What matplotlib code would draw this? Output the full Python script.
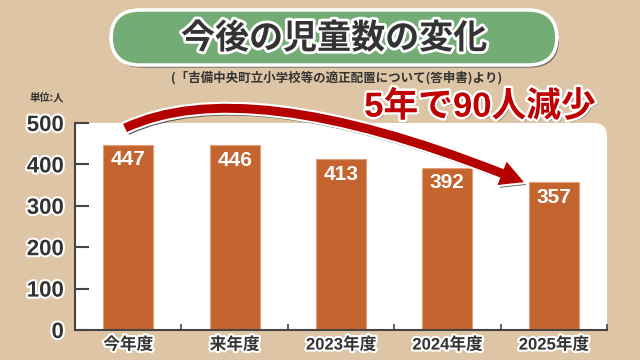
import matplotlib
matplotlib.use("Agg")
import matplotlib.pyplot as plt
import matplotlib.patheffects as pe
from matplotlib.patches import FancyBboxPatch, Rectangle, FancyArrowPatch
from matplotlib.path import Path

plt.rcParams['font.family'] = ['Noto Sans CJK JP', 'DejaVu Sans']
MIX = ['Liberation Sans', 'Noto Sans CJK JP']

categories = ["今年度", "来年度", "2023年度", "2024年度", "2025年度"]
values = [447, 446, 413, 392, 357]
yticks = [0, 100, 200, 300, 400, 500]
title = "今後の児童数の変化"
subtitle = "(「吉備中央町立小学校等の適正配置について(答申書)より)"
unit = "単位:人"
callout = "5年で90人減少"

BG = "#DEC5A5"
BAR = "#C4652F"
DARK = "#333333"
RED = "#C00000"

fig = plt.figure(figsize=(6.4, 3.6), dpi=100, facecolor=BG)
ax = fig.add_axes([75/640, 1-330/360, 532/640, 207/360])
ax.set_facecolor("none")
ax.set_xlim(-0.5, len(categories) - 0.5)
ax.set_ylim(0, 500)

# white plot area with rounded top-right corner
ax.add_patch(FancyBboxPatch((0, 0), 1, 1, boxstyle="round,pad=0,rounding_size=0.025",
                            transform=ax.transAxes, facecolor="white", edgecolor="none",
                            zorder=0, mutation_aspect=532/207))
ax.add_patch(Rectangle((0, 0), 1, 0.5, transform=ax.transAxes, facecolor="white",
                       edgecolor="none", zorder=0))
ax.add_patch(Rectangle((0, 0), 0.5, 1, transform=ax.transAxes, facecolor="white",
                       edgecolor="none", zorder=0))

xs = list(range(len(categories)))
bars = ax.bar(xs, values, width=0.47, color=BAR, edgecolor="#E0A07A", linewidth=0.8, zorder=2)
for x, v in zip(xs, values):
    ax.annotate(str(v), (x, v), xytext=(0, -4), textcoords="offset points",
                ha="center", va="top", color="white", fontsize=15, fontweight="bold",
                family=MIX, zorder=3)

for s in ["top", "right"]:
    ax.spines[s].set_visible(False)
for s in ["left", "bottom"]:
    ax.spines[s].set_color("#444444")
    ax.spines[s].set_linewidth(1.5)
    ax.spines[s].set_zorder(4)

ax.set_yticks(yticks)
ax.set_yticklabels([str(t) for t in yticks])
ax.tick_params(axis="y", direction="in", length=10, width=1.5, color="#444444", pad=8,
               labelsize=16, labelcolor=DARK)
ax.set_xticks(xs)
ax.set_xticklabels(categories)
ax.tick_params(axis="x", which="major", length=0, pad=5, labelsize=12, labelcolor=DARK)
ax.set_xticks([x + 0.5 for x in range(-1, len(categories))], minor=True)
ax.tick_params(axis="x", which="minor", direction="in", length=4, width=1.2, color="#444444")

outline = [pe.withStroke(linewidth=3, foreground="white")]
for lab in ax.get_yticklabels() + ax.get_xticklabels():
    lab.set_fontweight("bold")
    lab.set_family(MIX)
    lab.set_path_effects(outline)

# curved arrow
verts = [(-0.03, 488), (1.14, 628), (3.72, 357)]
arrow_path = Path(verts, [Path.MOVETO, Path.CURVE3, Path.CURVE3])
arrow = FancyArrowPatch(path=arrow_path, arrowstyle="simple,head_length=17,head_width=18,tail_width=6.5",
                        facecolor="#B50000", edgecolor="none", transform=ax.transData,
                        clip_on=False, zorder=5, mutation_scale=1)
arrow.set_path_effects([pe.SimplePatchShadow(offset=(1.5, -2), shadow_rgbFace="#333333", alpha=0.8),
                        pe.Stroke(linewidth=3, foreground="white"), pe.Normal()])
ax.add_patch(arrow)

# title banner
banner = FancyBboxPatch((111/640, 1-65/360), 446/640, 55/360,
                        boxstyle="round,pad=0,rounding_size=0.045", transform=fig.transFigure,
                        facecolor="#74AC76", edgecolor="white", linewidth=2.5,
                        mutation_aspect=640/360, zorder=1)
banner.set_path_effects([pe.SimplePatchShadow(offset=(1.5, -2), shadow_rgbFace="#555555", alpha=0.7), pe.Normal()])
fig.patches.append(banner)
fig.text(334/640, 1-38/360, title, ha="center", va="center", fontsize=24.5, fontweight="bold",
         color=DARK, path_effects=[pe.withStroke(linewidth=4, foreground="white")], zorder=3)
fig.text(337/640, 1-78/360, subtitle, ha="center", va="center", fontsize=9, fontweight="bold",
         color=DARK)
fig.text(30/640, 1-97/360, unit, ha="left", va="center", fontsize=7.5, fontweight="bold", color=DARK)
fig.text(480/640, 1-107/360, callout, ha="center", va="center", fontsize=25, fontweight="bold",
         color=RED, zorder=10, family=MIX,
         path_effects=[pe.withSimplePatchShadow(offset=(1.5, -1.5), shadow_rgbFace="#444444", alpha=0.9),
                       pe.withStroke(linewidth=3.5, foreground="white")])

fig.savefig("out.png", dpi=100, facecolor=BG)
